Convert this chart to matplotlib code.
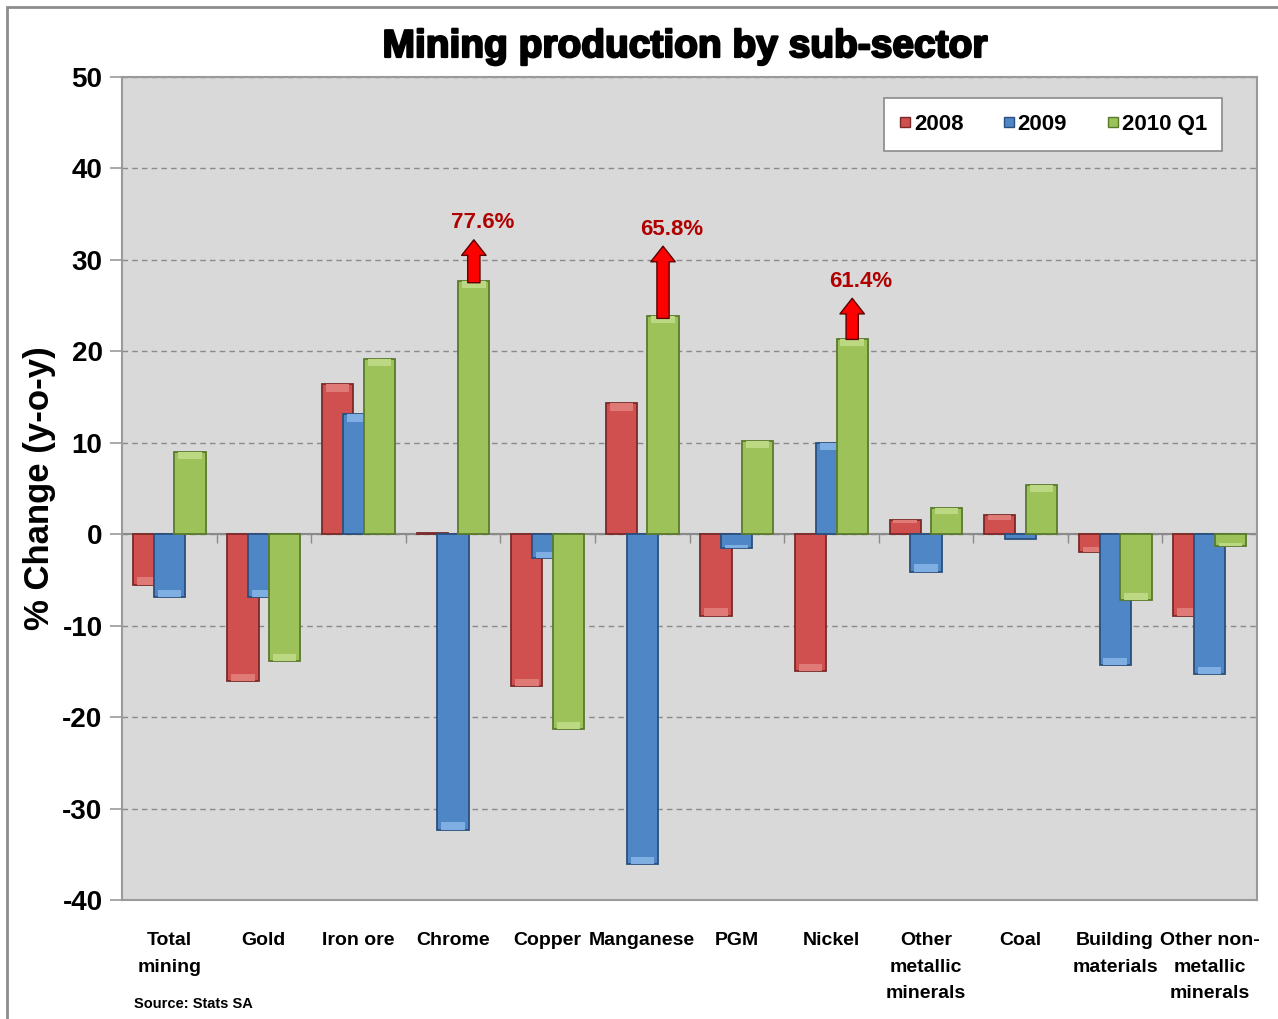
import numpy as np
import matplotlib
matplotlib.use('Agg')
import matplotlib.pyplot as plt
import matplotlib.patheffects as pe
from matplotlib.patches import Rectangle
from matplotlib.lines import Line2D

plt.rcParams['axes.unicode_minus'] = False

categories = ['Total\nmining', 'Gold', 'Iron ore', 'Chrome', 'Copper', 'Manganese', 'PGM',
              'Nickel', 'Other\nmetallic\nminerals', 'Coal', 'Building\nmaterials',
              'Other non-\nmetallic\nminerals']
y2008 = [-5.5, -16.1, 16.4, 0.1, -16.6, 14.3, -8.9, -15.0, 1.6, 2.1, -1.9, -8.9]
y2009 = [-6.9, -6.9, 13.1, -32.3, -2.6, -36.1, -1.5, 10.0, -4.1, -0.5, -14.3, -15.3]
y2010q1 = [9.0, -13.9, 19.2, 27.7, -21.3, 23.9, 10.2, 21.4, 2.9, 5.4, -7.2, -1.3]
series_names = ['2008', '2009', '2010 Q1']
# off-scale values shown with arrows (bars are drawn cut off)
offscale_idx = [3, 5, 7]
offscale_labels = ['77.6%', '65.8%', '61.4%']
arrow_tops = [32.5, 31.8, 26.1]
arrow_bases = [27.2, 23.3, 21.0]

colors = ['#cf504e', '#4f86c6', '#9dc25a']
edges = ['#7a2a28', '#2a4f7d', '#5a7a2c']
highlights = ['#e07a76', '#7eaee2', '#bcd882']

narrow = ['Liberation Sans Narrow', 'Liberation Sans', 'DejaVu Sans']
wide = ['Liberation Sans', 'DejaVu Sans']

fig = plt.figure(figsize=(12.78, 10.19), dpi=100)
fig.patches.append(Rectangle((7 / 1278, -0.1), 1.2, 1.1 - 7 / 1019, transform=fig.transFigure,
                             fill=False, edgecolor='#8c8c8c', linewidth=2))
ax = fig.add_axes([122 / 1278, 1 - 900 / 1019, 1135 / 1278, 823 / 1019])
ax.set_facecolor('#d9d9d9')

x = np.arange(len(categories))
offsets = [-0.22, 0.0, 0.22]
width = 0.33
for k, vals in enumerate([y2008, y2009, y2010q1]):
    vals = np.array(vals)
    ax.bar(x + offsets[k], vals, width, color=colors[k], edgecolor=edges[k],
           linewidth=1.3, zorder=3 + k)
    # bevel highlight at the outer end of each bar
    cap = np.clip(np.abs(vals) * 0.25, 0, 0.8) * np.sign(vals)
    big = np.abs(vals) >= 1
    ax.bar((x + offsets[k])[big], cap[big], width * 0.75, bottom=(vals - cap)[big],
           color=highlights[k], linewidth=0, zorder=3 + k)

for i, lab, top, base in zip(offscale_idx, offscale_labels, arrow_tops, arrow_bases):
    xi = x[i] + offsets[2]
    ax.annotate('', xy=(xi, top), xytext=(xi, base),
                arrowprops=dict(arrowstyle='simple,head_width=1.1,head_length=0.7,tail_width=0.55',
                                fc='#ff0000', ec='#5a0000', lw=1, mutation_scale=16),
                zorder=8)
    ax.text(xi + 0.09, top + 0.4, lab, ha='center', va='bottom', color='#b00000',
            fontsize=16, fontweight='bold', family=narrow, zorder=8)

ax.set_ylim(-40, 50)
ax.set_xlim(-0.5, len(categories) - 0.5)
ax.set_yticks(np.arange(-40, 51, 10))
ax.yaxis.grid(True, linestyle=(0, (4, 3)), color='#8a8a8a', linewidth=1)
ax.set_axisbelow(True)
ax.axhline(0, color='#8a8a8a', linewidth=1.5, zorder=2)
ax.vlines(x[1:] - 0.5, -1.0, 0, color='#8a8a8a', linewidth=1, zorder=2)

for s in ax.spines.values():
    s.set_color('#9a9a9a')
    s.set_linewidth(1.5)
ax.tick_params(axis='y', length=9, width=1.2, color='#9a9a9a', pad=5)
ax.tick_params(axis='x', length=0, pad=23)
ax.set_xticks(x)
ax.set_xticklabels(categories, fontsize=14, fontweight='bold', family=narrow, linespacing=1.75,
                   va='top')
for t in ax.get_yticklabels():
    t.set_fontsize(20)
    t.set_fontweight('bold')
    t.set_family(narrow)

ax.set_ylabel('% Change (y-o-y)', fontsize=25, fontweight='bold', family=wide)
ax.yaxis.set_label_coords(-0.058, 0.5)

fig.text(685 / 1278, 1 - 47 / 1019, 'Mining production by sub-sector', ha='center', va='center',
         fontsize=28, fontweight='bold', family=narrow,
         path_effects=[pe.withStroke(linewidth=1.6, foreground='black')])

fig.text(134 / 1278, 1 - 1004 / 1019, 'Source: Stats SA', ha='left', va='center', fontsize=10.5,
         fontweight='bold', family=narrow)

handles = [Line2D([], [], linestyle='none', marker='s', markersize=7, markerfacecolor=c,
                  markeredgecolor=e) for c, e in zip(colors, edges)]
leg = ax.legend(handles, series_names, loc='upper right', bbox_to_anchor=(0.9696, 0.974), ncol=3,
                prop=dict(family=narrow, weight='bold', size=16), frameon=True, fancybox=False,
                handlelength=0.5, handletextpad=0.15, columnspacing=1.8, borderpad=0.7,
                borderaxespad=0)
leg.get_frame().set_edgecolor('#8a8a8a')
leg.get_frame().set_linewidth(1.2)
leg.get_frame().set_alpha(1)
leg.set_zorder(10)

fig.savefig('out.png', dpi=100, facecolor='white')
